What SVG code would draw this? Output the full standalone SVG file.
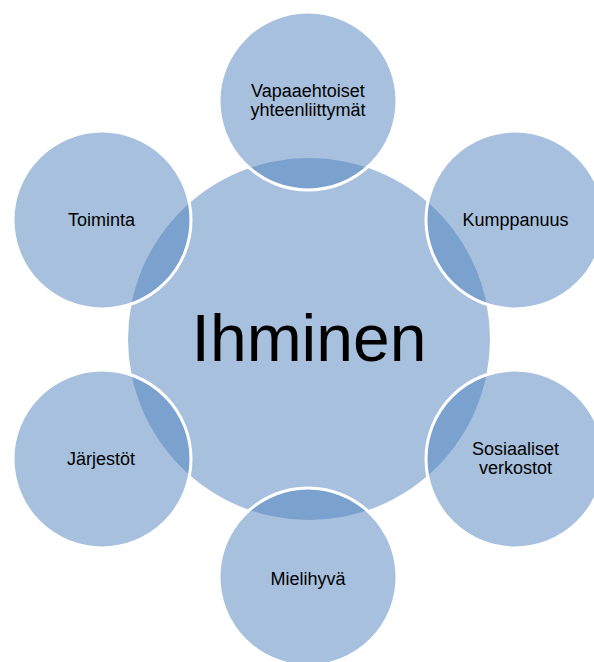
<svg xmlns="http://www.w3.org/2000/svg" width="594" height="662" viewBox="0 0 594 662">
<style>
.c{fill:#4f81bd;fill-opacity:0.5}
.o{fill:#4f81bd;fill-opacity:0.5;stroke:#ffffff;stroke-width:3}
text{font-family:"Liberation Sans",Arial,sans-serif;fill:#000000;text-anchor:middle}
.s{font-size:18px}
.b{font-size:66px}
</style>
<rect width="594" height="662" fill="#ffffff"/>
<g id="center">
<circle class="c" cx="309" cy="339" r="181"/>
<text class="b" x="309" y="361">Ihminen</text>
</g>
<g id="vapaaehtoiset">
<circle class="o" cx="308" cy="101" r="89"/>
<text class="s" x="308" y="97">Vapaaehtoiset</text>
<text class="s" x="308" y="115.5">yhteenliittymät</text>
</g>
<g id="kumppanuus">
<circle class="o" cx="515" cy="220" r="89"/>
<text class="s" x="515.5" y="226">Kumppanuus</text>
</g>
<g id="sosiaaliset">
<circle class="o" cx="515" cy="459" r="89"/>
<text class="s" x="515.5" y="455">Sosiaaliset</text>
<text class="s" x="515.5" y="474">verkostot</text>
</g>
<g id="mielihyva">
<circle class="o" cx="308" cy="577" r="89"/>
<text class="s" x="308" y="585">Mielihyvä</text>
</g>
<g id="jarjestot">
<circle class="o" cx="102" cy="459" r="89"/>
<text class="s" x="101" y="465">Järjestöt</text>
</g>
<g id="toiminta">
<circle class="o" cx="102" cy="220" r="89"/>
<text class="s" x="101.5" y="226">Toiminta</text>
</g>
<g id="connectors"></g>
</svg>
